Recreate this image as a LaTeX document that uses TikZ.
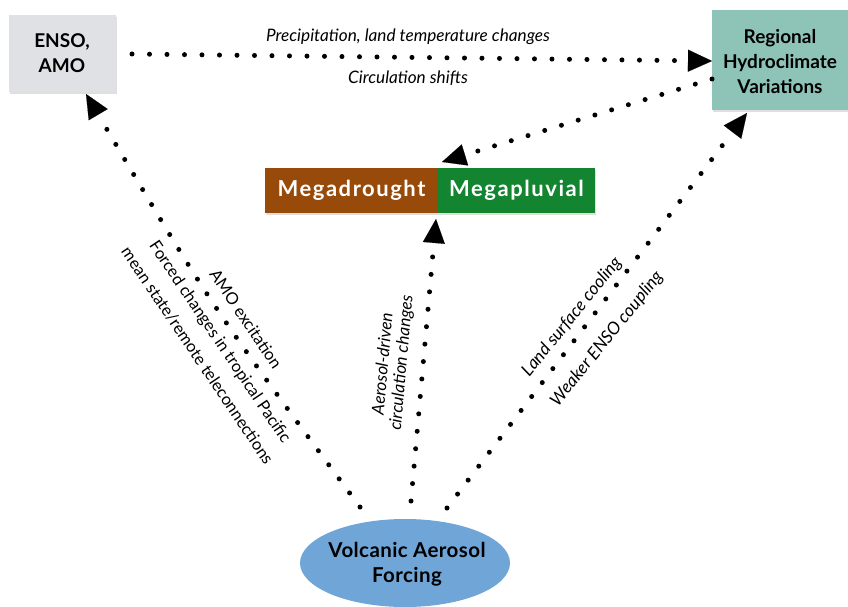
\documentclass[tikz,border=0pt]{standalone}
\usepackage{fontspec}
\setmainfont{Lato}
\usetikzlibrary{arrows.meta,shapes.geometric,shadows}
\definecolor{ensogray}{HTML}{DFE1E4}
\definecolor{regteal}{HTML}{8EC3B8}
\definecolor{mdbrown}{HTML}{984A0A}
\definecolor{mpgreen}{HTML}{13842F}
\definecolor{volcblue}{HTML}{70A5D7}
\tikzset{
  arr/.style={line width=5pt, line cap=round, dash pattern=on 0pt off 17.5pt,
    -{Triangle[length=24pt,width=22pt,line width=0.1pt]}},
  lbl/.style={font=\fontsize{17}{20}\selectfont\itshape, inner sep=0pt},
  boxtxt/.style={font=\fontsize{19}{25}\selectfont\bfseries, align=center},
  megatxt/.style={text=white, font=\fontsize{22}{24}\selectfont\bfseries\addfontfeatures{LetterSpace=7}},
  shad/.style={drop shadow={opacity=0.25, shadow xshift=1pt, shadow yshift=-2pt}}
}
\begin{document}
\begin{tikzpicture}[x=1pt,y=-1pt]
\useasboundingbox (0,0) rectangle (848,607);
% boxes
\node[shad, fill=ensogray, minimum width=107pt, minimum height=77pt, boxtxt, inner sep=0pt] (enso) at (62,53.5) {ENSO,\\AMO};
\node[shad, fill=regteal, minimum width=140pt, minimum height=100pt, inner sep=0pt] (reg) at (782,60) {};
\node[boxtxt, inner sep=0pt] (regtxt) at (780,62) {Regional\\Hydroclimate\\Variations};
\node[shad, fill=mdbrown, minimum width=173pt, minimum height=45pt, inner sep=0pt, megatxt] (md) at (351.5,190.5) {Megadrought};
\node[shad, fill=mpgreen, minimum width=157pt, minimum height=45pt, inner sep=0pt, megatxt] (mp) at (516.5,190.5) {Megapluvial};
\node[ellipse, fill=volcblue, minimum width=210pt, minimum height=88pt, inner sep=0pt] (volc) at (405,563) {};
\node[boxtxt, inner sep=0pt, font=\fontsize{20.5}{25}\selectfont\bfseries\addfontfeatures{LetterSpace=2}] (volctxt) at (407,564) {Volcanic Aerosol\\Forcing};
% connector end points
\coordinate (topS) at (132,54);
\coordinate (topE) at (712,61);
\coordinate (regS) at (712,79);
\coordinate (megaTip) at (442,162);
\coordinate (volL) at (360,507);
\coordinate (ctlL) at (212,307);
\coordinate (ensoTip) at (86,94);
\coordinate (volM) at (411,501);
\coordinate (megaTipB) at (436,219);
\coordinate (volR) at (447,508);
\coordinate (regTipB) at (747,113);
% connectors
\draw[arr] (topS) -- (topE);
\draw[arr] (regS) -- (megaTip);
\draw[arr] (volL) .. controls (ctlL) .. (ensoTip);
\draw[arr] (volM) -- (megaTipB);
\draw[arr] (volR) -- (regTipB);
% labels
\node[lbl, font=\fontsize{17.2}{20}\selectfont\itshape] (l1) at (408,37) {Precipitation, land temperature changes};
\node[lbl, font=\fontsize{17.2}{20}\selectfont\itshape] (l2) at (408,78) {Circulation shifts};
\node[lbl, rotate=-56, font=\fontsize{16.5}{18}\selectfont] (l3) at (246,319) {AMO excitation};
\node[lbl, rotate=-56, font=\fontsize{16.5}{18}\selectfont] (l4) at (219.5,342.5) {Forced changes in tropical Pacific};
\node[lbl, rotate=-56, font=\fontsize{16.5}{18}\selectfont] (l5) at (197.5,355.5) {mean state/remote teleconnections};
\node[lbl, rotate=85] (l6) at (382,364) {Aerosol-driven};
\node[lbl, rotate=85] (l7) at (402,363) {circulation changes};
\node[lbl, rotate=51, font=\fontsize{17.4}{20}\selectfont\itshape] (l8) at (572,317) {Land surface cooling};
\node[lbl, rotate=51, font=\fontsize{17.4}{20}\selectfont\itshape] (l9) at (607,339) {Weaker ENSO coupling};
\end{tikzpicture}
\end{document}
